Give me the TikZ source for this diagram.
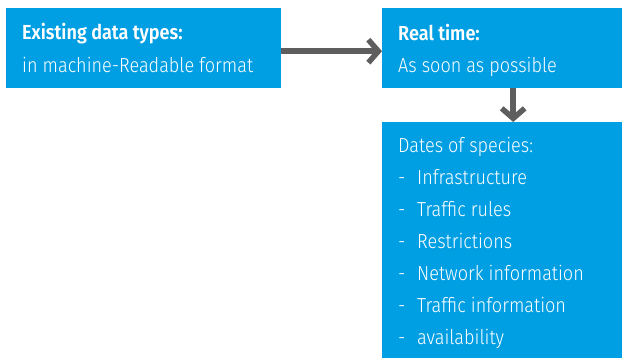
\documentclass[tikz,border=0pt]{standalone}
\usepackage{fontspec}
\setmainfont{Fira Sans Light}[BoldFont={Fira Sans SemiBold},FakeStretch=0.89]
\usetikzlibrary{arrows.meta}
\definecolor{boxblue}{HTML}{009FE3}
\definecolor{arrgray}{HTML}{5E5E5E}
\tikzset{
  box/.style={fill=boxblue, draw=none, anchor=north west, inner sep=0pt},
  txt/.style={anchor=base west, inner sep=0pt, text=white, font=\fontsize{20.3}{24}\selectfont},
  conn/.style={draw=arrgray, line width=5.5pt, -{Straight Barb[length=10pt,width=23pt]}},
}
\begin{document}
\begin{tikzpicture}[x=1pt,y=-1pt]
\useasboundingbox (0,0) rectangle (622,358);
\node[box, minimum width=275pt, minimum height=80pt] (a) at (6,8) {};
\node[box, minimum width=240pt, minimum height=80pt] (b) at (382,8) {};
\node[box, minimum width=240pt, minimum height=236pt] (c) at (382,122) {};
\node[txt, font=\fontsize{20.3}{24}\bfseries] (a1) at (22,40) {Existing data types:};
\node[txt] (a2) at (22,73) {in machine-Readable format};
\node[txt, font=\fontsize{20.3}{24}\bfseries] (b1) at (398,41) {Real time:};
\node[txt] (b2) at (398,73) {As soon as possible};
\node[txt] (c0) at (398,153) {Dates of species:};
\foreach \t [count=\i] in {Infrastructure,Traffic rules,Restrictions,Network information,Traffic information,availability}{
  \node[txt] (d\i) at (398,153+32*\i) {-};
  \node[txt] (e\i) at (417,153+32*\i) {\t};
}
\draw[conn] ([yshift=-3pt]a.east) -- ([yshift=-3pt]b.west);
\draw[conn] ([xshift=11pt]b.south) -- ([xshift=11pt]c.north);
\end{tikzpicture}
\end{document}
